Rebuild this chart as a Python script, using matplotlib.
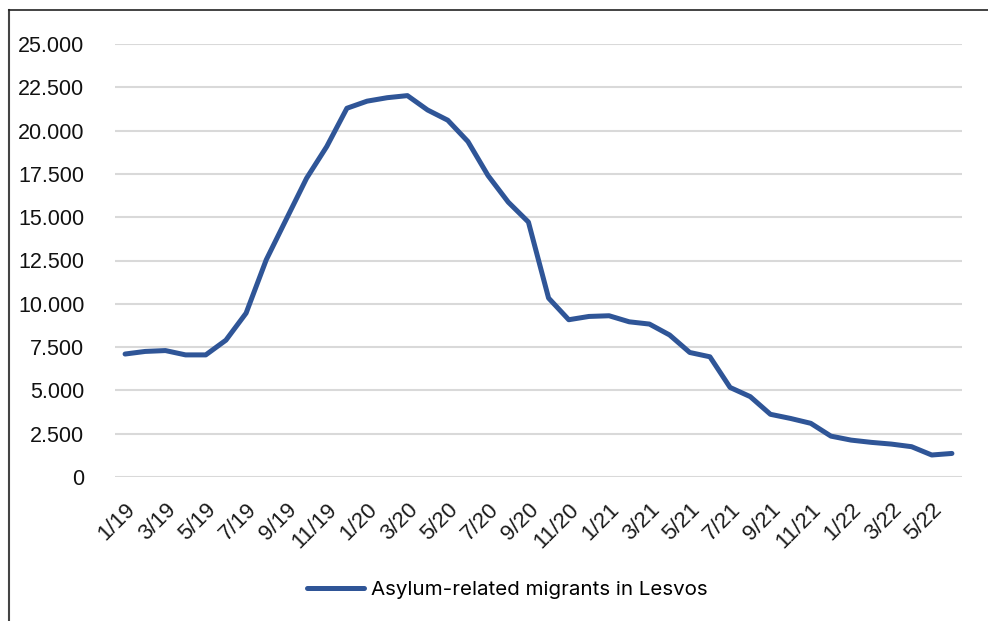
import matplotlib.pyplot as plt
from matplotlib.lines import Line2D
from matplotlib.ticker import FuncFormatter

# monthly values, 1/19 .. 6/22
months = [f"{m}/{y}" for y in (19, 20, 21, 22) for m in range(1, 13)][:42]
migrants = [7100, 7250, 7300, 7050, 7050, 7900, 9460, 12540, 14900, 17250, 19080, 21290,
            21700, 21900, 22020, 21190, 20600, 19370, 17400, 15870, 14720, 10330, 9080, 9270,
            9310, 8960, 8830, 8200, 7190, 6940, 5170, 4640, 3620, 3380, 3100, 2360,
            2130, 2000, 1900, 1750, 1270, 1360]
series_name = "Asylum-related migrants in Lesvos"
yticks = list(range(0, 25001, 2500))

plt.rcParams['font.family'] = ['Liberation Sans', 'DejaVu Sans']

fig = plt.figure(figsize=(9.88, 6.21), dpi=100)
ax = fig.add_axes([115/988, 1-477/621, 847/988, 433/621])

x = list(range(len(months)))
line, = ax.plot(x, migrants, color='#2F5597', lw=3.6, solid_joinstyle='round',
                solid_capstyle='round', label=series_name)

ax.set_xlim(-0.5, len(months) - 0.5)
ax.set_ylim(0, 25000)
ax.set_yticks(yticks)
ax.yaxis.set_major_formatter(FuncFormatter(lambda v, p: f"{int(v):,}".replace(",", ".")))
ax.grid(axis='y', color='#D9D9D9', lw=1.5)
ax.set_axisbelow(True)
for s in ax.spines.values():
    s.set_visible(False)
ax.tick_params(axis='y', length=0, pad=22, labelsize=15.5, labelcolor='#111111')
ax.tick_params(axis='x', length=0, pad=16, labelsize=16, labelcolor='#1a1a1a')
ax.set_xticks(x[::2])
ax.set_xticklabels(months[::2], rotation=45, ha='right', rotation_mode='anchor')

fig.legend(handles=[line], loc='center', bbox_to_anchor=(507/988, 1-590/621),
           frameon=False, prop={'family': ['Inter', 'DejaVu Sans'], 'size': 14.8},
           handlelength=2.8, handletextpad=0.3)

# chart frame (top and left edges visible)
fig.add_artist(Line2D([8.5/988, 8.5/988], [0, 1-10/621], transform=fig.transFigure,
                      color='#444444', lw=1.5))
fig.add_artist(Line2D([8.5/988, 1], [1-10/621, 1-10/621], transform=fig.transFigure,
                      color='#222222', lw=1.2))

fig.savefig('out.png', dpi=100)
